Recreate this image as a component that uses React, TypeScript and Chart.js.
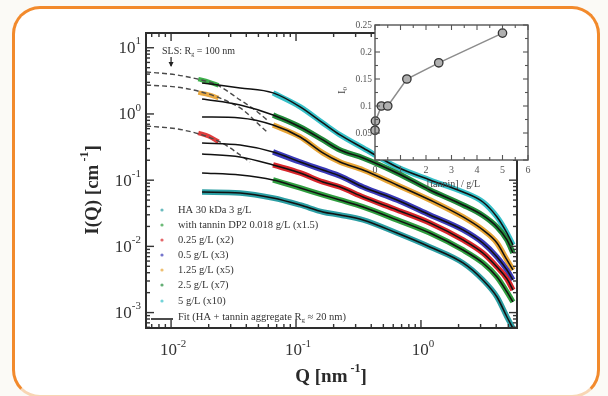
import React, { useEffect, useRef } from "react";
import { Chart, registerables } from "chart.js";
Chart.register(...registerables);

// ---------- Main plot data (Q in nm^-1, I(Q) in cm^-1) ----------
const qSans = [0.0177, 0.0357, 0.0655, 0.108, 0.164, 0.225, 0.344, 0.643, 1.18, 2.17, 3.13, 4.06, 4.88, 5.45];

const iHA = [0.0663, 0.0641, 0.0538, 0.0422, 0.0331, 0.0298, 0.0251, 0.0159, 0.0098, 0.00561, 0.00311, 0.00172, 0.000858, 0.00058];
const iT0018 = [0.1285, 0.1198, 0.1007, 0.0762, 0.0598, 0.0502, 0.0394, 0.0251, 0.0159, 0.00882, 0.00561, 0.00345, 0.00205, 0.00145];
const iT025 = [0.249, 0.224, 0.17, 0.1285, 0.0939, 0.0789, 0.0557, 0.0355, 0.0226, 0.0125, 0.00795, 0.00488, 0.00322, 0.00219];
const iT05 = [0.365, 0.34, 0.267, 0.188, 0.1426, 0.1157, 0.0789, 0.0502, 0.0298, 0.0177, 0.01125, 0.00692, 0.0044, 0.00311];
const iT125 = [0.901, 0.87, 0.682, 0.449, 0.258, 0.188, 0.1426, 0.0846, 0.0502, 0.0278, 0.0177, 0.01125, 0.00623, 0.0044];
const iT25 = [1.685, 1.37, 0.966, 0.636, 0.405, 0.286, 0.2165, 0.1285, 0.0711, 0.0422, 0.0293, 0.01964, 0.0125, 0.00795];
const iT5 = [2.94, 2.47, 2.08, 1.28, 0.731, 0.482, 0.306, 0.158, 0.1007, 0.0663, 0.0468, 0.0278, 0.0159, 0.0105];

const seriesLabels = [
  "HA 30 kDa 3 g/L",
  "with tannin DP2 0.018 g/L (x1.5)",
  "0.25 g/L (x2)",
  "0.5 g/L (x3)",
  "1.25 g/L (x5)",
  "2.5 g/L (x7)",
  "5 g/L (x10)",
];
const seriesI = [iHA, iT0018, iT025, iT05, iT125, iT25, iT5];
const seriesColors = ["#2b9ea3", "#2f9e3f", "#d8262b", "#3a3ab8", "#e7a435", "#228b3b", "#36c0c8"];
const seriesDataStart = [0, 2, 2, 2, 2, 2, 2];

// SLS Guinier curves (dashed), R_g = 100 nm
const qSls1 = [0.00631, 0.01117, 0.01614, 0.02333, 0.03565, 0.047, 0.05861];
const iSls1 = [4.31, 3.88, 3.38, 2.74, 1.63, 1.15, 0.812];
const qSls2 = [0.00631, 0.01247, 0.02333, 0.03767, 0.047, 0.05861];
const iSls2 = [2.74, 2.47, 1.806, 1.15, 0.784, 0.535];
const qSls3 = [0.00631, 0.01247, 0.02466, 0.04285];
const iSls3 = [0.659, 0.573, 0.378, 0.188];

// SLS measured points (coloured)
const qSlsData = [0.0165, 0.02, 0.024];
const iSlsGreen = [3.35, 3.05, 2.7];
const iSlsOrange = [2.1, 1.95, 1.75];
const iSlsRed = [0.52, 0.46, 0.38];

const fitLabel = "Fit (HA + tannin aggregate R";
const slsLabel = "SLS: R";

// axes
const xMin = 0.0063, xMax = 5.87;
const yMin = 5.85e-4, yMax = 16.7;
const xMajor = [0.01, 0.1, 1];
const xMajorExp = ["-2", "-1", "0"];
const yMajor = [10, 1, 0.1, 0.01, 0.001];
const yMajorExp = ["1", "0", "-1", "-2", "-3"];

// ---------- Inset data ----------
const tanninConc = [0, 0.018, 0.25, 0.5, 1.25, 2.5, 5];
const insetValue = [0.055, 0.072, 0.1, 0.1, 0.15, 0.18, 0.235];
const insetXTicks = [0, 1, 2, 3, 4, 5, 6];
const insetYTicks = [0.05, 0.1, 0.15, 0.2, 0.25];
const insetYLabels = ["0.05", "0.1", "0.15", "0.2", "0.25"];

const SERIF = '"Liberation Serif", "DejaVu Serif", serif';

type Seg = { t: string; s?: "sup" | "sub" };

function drawSegs(ctx: CanvasRenderingContext2D, segs: Seg[], x: number, y: number, size: number,
  align: "left" | "center" | "right", bold = false, color = "#333") {
  const base = `${bold ? "bold " : ""}${size}px ${SERIF}`;
  const small = `${bold ? "bold " : ""}${Math.round(size * 0.62)}px ${SERIF}`;
  let w = 0;
  const widths = segs.map((sg) => {
    ctx.font = sg.s ? small : base;
    const m = ctx.measureText(sg.t).width;
    w += m;
    return m;
  });
  let cx = align === "left" ? x : align === "center" ? x - w / 2 : x - w;
  ctx.fillStyle = color;
  ctx.textBaseline = "middle";
  ctx.textAlign = "left";
  segs.forEach((sg, i) => {
    ctx.font = sg.s ? small : base;
    const dy = sg.s === "sup" ? -size * 0.42 : sg.s === "sub" ? size * 0.3 : 0;
    ctx.fillText(sg.t, cx, y + dy);
    cx += widths[i];
  });
}

const pts = (q: number[], v: number[]) => q.map((x, i) => ({ x, y: v[i] }));

const mainDecor = {
  id: "mainDecor",
  afterDatasetsDraw(chart: any) {
    const { ctx, chartArea: a, scales } = chart;
    const xs = scales.x, ys = scales.y;
    ctx.save();
    ctx.strokeStyle = "#333";
    ctx.lineWidth = 1.4;
    const seg = (x1: number, y1: number, x2: number, y2: number) => {
      ctx.beginPath(); ctx.moveTo(x1, y1); ctx.lineTo(x2, y2); ctx.stroke();
    };
    for (let e = -3; e <= 1; e++) {
      for (let k = 1; k <= 9; k++) {
        const v = k * Math.pow(10, e);
        const len = k === 1 ? 8 : 4;
        if (v >= xMin && v <= xMax) {
          const px = xs.getPixelForValue(v);
          seg(px, a.bottom, px, a.bottom - len);
          seg(px, a.top, px, a.top + len);
        }
      }
    }
    for (let e = -4; e <= 1; e++) {
      for (let k = 1; k <= 9; k++) {
        const v = k * Math.pow(10, e);
        const len = k === 1 ? 8 : 4;
        if (v >= yMin && v <= yMax) {
          const py = ys.getPixelForValue(v);
          seg(a.left, py, a.left + len, py);
          seg(a.right, py, a.right - len, py);
        }
      }
    }
    ctx.lineWidth = 2;
    ctx.strokeStyle = "#2e2e2e";
    ctx.strokeRect(a.left, a.top, a.right - a.left, a.bottom - a.top);

    // tick labels
    yMajor.forEach((v, i) => {
      drawSegs(ctx, [{ t: "10" }, { t: yMajorExp[i], s: "sup" }], 141, ys.getPixelForValue(v) + 1, 17, "right", false, "#333");
    });
    xMajor.forEach((v, i) => {
      drawSegs(ctx, [{ t: "10" }, { t: xMajorExp[i], s: "sup" }], xs.getPixelForValue(v) + 2, 351, 17, "center", false, "#333");
    });
    // axis titles
    drawSegs(ctx, [{ t: "Q [nm" }, { t: " -1", s: "sup" }, { t: "]" }], 331, 377, 19, "center", true, "#2a2a2a");
    ctx.save();
    ctx.translate(93, 190);
    ctx.rotate(-Math.PI / 2);
    drawSegs(ctx, [{ t: "I(Q) [cm" }, { t: " -1", s: "sup" }, { t: "]" }], 0, 0, 19, "center", true, "#2a2a2a");
    ctx.restore();

    // SLS annotation
    drawSegs(ctx, [{ t: slsLabel }, { t: "g", s: "sub" }, { t: " = 100 nm" }], 162, 51, 10, "left", false, "#333");
    const ax = xs.getPixelForValue(0.01);
    ctx.strokeStyle = "#222"; ctx.lineWidth = 1.2;
    seg(ax, 57, ax, 66);
    ctx.fillStyle = "#222";
    ctx.beginPath(); ctx.moveTo(ax - 2.5, 62); ctx.lineTo(ax + 2.5, 62); ctx.lineTo(ax, 67); ctx.closePath(); ctx.fill();

    // legend
    const rows = [210, 225, 240, 255, 270, 285, 301];
    seriesLabels.forEach((lab, i) => {
      ctx.fillStyle = seriesColors[i];
      ctx.globalAlpha = 0.7;
      ctx.beginPath(); ctx.arc(162, rows[i], 1.6, 0, Math.PI * 2); ctx.fill();
      ctx.globalAlpha = 1;
      drawSegs(ctx, [{ t: lab }], 178, rows[i], 10.5, "left", false, "#333");
    });
    ctx.strokeStyle = "#111"; ctx.lineWidth = 1.5;
    seg(151, 319, 173, 319);
    drawSegs(ctx, [{ t: fitLabel }, { t: "g", s: "sub" }, { t: " \u2248 20 nm)" }], 178, 317, 10.5, "left", false, "#333");
    ctx.restore();
  },
};

const insetDecor = {
  id: "insetDecor",
  beforeDatasetsDraw(chart: any) {
    const { ctx, chartArea: a } = chart;
    ctx.save();
    ctx.fillStyle = "#ffffff";
    ctx.fillRect(a.left, a.top, a.right - a.left, a.bottom - a.top);
    ctx.restore();
  },
  afterDatasetsDraw(chart: any) {
    const { ctx, chartArea: a, scales } = chart;
    const xs = scales.x, ys = scales.y;
    ctx.save();
    ctx.strokeStyle = "#555";
    ctx.lineWidth = 1.1;
    const seg = (x1: number, y1: number, x2: number, y2: number) => {
      ctx.beginPath(); ctx.moveTo(x1, y1); ctx.lineTo(x2, y2); ctx.stroke();
    };
    for (let v = 0; v <= 6.001; v += 0.5) {
      const px = xs.getPixelForValue(v);
      const len = Math.abs(v - Math.round(v)) < 1e-6 ? 5 : 3;
      seg(px, a.bottom, px, a.bottom - len);
      seg(px, a.top, px, a.top + len);
    }
    for (let v = 0; v <= 0.2501; v += 0.025) {
      const py = ys.getPixelForValue(v);
      const major = Math.abs(v / 0.05 - Math.round(v / 0.05)) < 1e-6;
      const len = major ? 5 : 3;
      seg(a.left, py, a.left + len, py);
      seg(a.right, py, a.right - len, py);
    }
    ctx.lineWidth = 1.4;
    ctx.strokeRect(a.left, a.top, a.right - a.left, a.bottom - a.top);
    insetXTicks.forEach((v) => {
      drawSegs(ctx, [{ t: String(v) }], xs.getPixelForValue(v), a.bottom + 10, 10, "center", false, "#555");
    });
    insetYTicks.forEach((v, i) => {
      drawSegs(ctx, [{ t: insetYLabels[i] }], a.left - 3, ys.getPixelForValue(v), 9.5, "right", false, "#555");
    });
    drawSegs(ctx, [{ t: "[tannin] / g/L" }], (a.left + a.right) / 2 + 2, a.bottom + 24, 10, "center", false, "#444");
    ctx.save();
    ctx.translate(a.left - 33, (a.top + a.bottom) / 2 - 2);
    ctx.rotate(-Math.PI / 2);
    drawSegs(ctx, [{ t: "I" }, { t: "0", s: "sub" }], 0, 0, 11, "center", false, "#444");
    ctx.restore();
    ctx.restore();
  },
};

function MainChart() {
  const ref = useRef<HTMLCanvasElement | null>(null);
  useEffect(() => {
    if (!ref.current) return;
    const datasets: any[] = [];
    // fits (black) on top
    seriesI.forEach((vals) => {
      datasets.push({
        data: pts(qSans, vals), borderColor: "#111", borderWidth: 1.5,
        pointRadius: 0, cubicInterpolationMode: "monotone", fill: false, order: 0,
      });
    });
    // Guinier dashed
    [[qSls1, iSls1], [qSls2, iSls2], [qSls3, iSls3]].forEach(([q, v]) => {
      datasets.push({
        data: pts(q, v), borderColor: "#4a4a4a", borderWidth: 1.4, borderDash: [5, 3],
        pointRadius: 0, cubicInterpolationMode: "monotone", fill: false, order: 1,
      });
    });
    // SLS coloured data
    [[iSlsGreen, "#3cb04a"], [iSlsOrange, "#e8a840"], [iSlsRed, "#e03c3c"]].forEach(([v, c]) => {
      datasets.push({
        data: pts(qSlsData, v as number[]), borderColor: c, borderWidth: 4.5,
        pointRadius: 0, cubicInterpolationMode: "monotone", fill: false, order: 2,
      });
    });
    // SANS coloured data bands
    seriesI.forEach((vals, i) => {
      const s = seriesDataStart[i];
      datasets.push({
        data: pts(qSans.slice(s), vals.slice(s)), borderColor: seriesColors[i], borderWidth: 5.5,
        pointRadius: 0, cubicInterpolationMode: "monotone", fill: false, order: 3,
      });
    });
    const chart = new Chart(ref.current, {
      type: "line",
      data: { datasets },
      options: {
        animation: false,
        responsive: false,
        layout: { padding: { left: 146, right: 608 - 517, top: 33, bottom: 396 - 328 } },
        scales: {
          x: { type: "logarithmic", min: xMin, max: xMax, display: false },
          y: { type: "logarithmic", min: yMin, max: yMax, display: false },
        },
        plugins: { legend: { display: false }, tooltip: { enabled: false } },
      },
      plugins: [mainDecor],
    } as any);
    return () => chart.destroy();
  }, []);
  return <canvas ref={ref} width={608} height={396} style={{ position: "absolute", left: 0, top: 0 }} />;
}

function InsetChart() {
  const ref = useRef<HTMLCanvasElement | null>(null);
  useEffect(() => {
    if (!ref.current) return;
    const chart = new Chart(ref.current, {
      type: "line",
      data: {
        datasets: [{
          data: pts(tanninConc, insetValue), borderColor: "#8c8c8c", borderWidth: 1.5,
          pointRadius: 4.2, pointBackgroundColor: "#b0b0b0", pointBorderColor: "#333",
          pointBorderWidth: 1.3, tension: 0, clip: false,
        }],
      },
      options: {
        animation: false,
        responsive: false,
        layout: { padding: { left: 45, right: 17, top: 15, bottom: 45 } },
        scales: {
          x: { type: "linear", min: 0, max: 6, display: false },
          y: { type: "linear", min: 0, max: 0.25, display: false },
        },
        plugins: { legend: { display: false }, tooltip: { enabled: false } },
      },
      plugins: [insetDecor],
    } as any);
    return () => chart.destroy();
  }, []);
  return <canvas ref={ref} width={215} height={195} style={{ position: "absolute", left: 330, top: 10 }} />;
}

export default function App() {
  return (
    <div style={{ position: "fixed", left: 0, top: 0, width: 608, height: 396, overflow: "hidden", background: "#fbfaf6" }}>
      <div style={{
        position: "absolute", left: 12, top: 6, width: 582, height: 386,
        border: "3px solid #f28a2c", borderBottomColor: "#f8d6b4", borderRadius: 28, background: "#ffffff",
      }} />
      <MainChart />
      <InsetChart />
    </div>
  );
}
